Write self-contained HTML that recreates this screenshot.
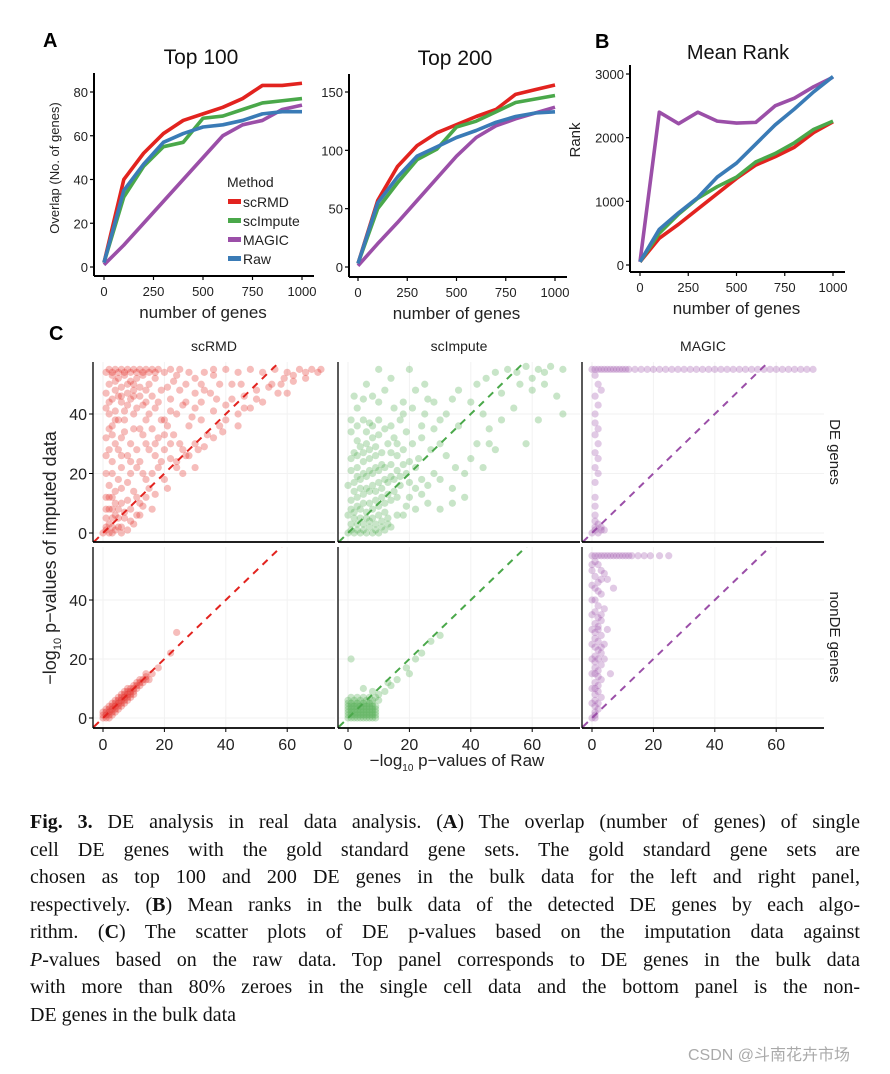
<!DOCTYPE html>
<html><head><meta charset="utf-8">
<style>
body{margin:0;background:#fff;width:890px;height:1074px;overflow:hidden;position:relative;font-family:"Liberation Sans",sans-serif}
svg{position:absolute;left:0;top:0}
.cap{position:absolute;left:30px;width:830px;font-family:"Liberation Serif",serif;font-size:20px;line-height:27px;text-align:justify;text-align-last:justify;white-space:nowrap;color:#111}
.cap.last{text-align-last:left}
</style></head><body>
<svg id="fig" width="890" height="1074" xmlns="http://www.w3.org/2000/svg"></svg>

<div class="cap" style="top:809px"><b>Fig. 3.</b> DE analysis in real data analysis. (<b>A</b>) The overlap (number of genes) of single</div>
<div class="cap" style="top:837px">cell DE genes with the gold standard gene sets. The gold standard gene sets are</div>
<div class="cap" style="top:864px">chosen as top 100 and 200 DE genes in the bulk data for the left and right panel,</div>
<div class="cap" style="top:892px">respectively. (<b>B</b>) Mean ranks in the bulk data of the detected DE genes by each algo-</div>
<div class="cap" style="top:919px">rithm. (<b>C</b>) The scatter plots of DE p-values based on the imputation data against</div>
<div class="cap" style="top:947px"><i>P</i>-values based on the raw data. Top panel corresponds to DE genes in the bulk data</div>
<div class="cap" style="top:974px">with more than 80% zeroes in the single cell data and the bottom panel is the non-</div>
<div class="cap last" style="top:1002px">DE genes in the bulk data</div>
<div style="position:absolute;left:688px;top:1041px;font-size:16px;color:#aaa;font-family:'Liberation Sans','Noto Sans CJK SC',sans-serif">CSDN @斗南花卉市场</div>

<script>
// ---------- data ----------
const genesX = [0,100,200,300,400,500,600,700,800,900,1000];
const methods = ["scRMD","scImpute","MAGIC","Raw"];
const colors = ["#e2231f","#4aa84a","#9b4fa8","#3a7bb6"];
const top100_scRMD   = [2,40,52,61,67,70,73,77,83,83,84];
const top100_scImpute= [2,32,46,55,57,68,69,72,75,76,77];
const top100_MAGIC   = [1,10,20,30,40,50,60,65,67,72,74];
const top100_Raw     = [2,35,47,57,61,64,65,67,70,71,71];
const top200_scRMD   = [3,57,86,104,115,122,129,135,148,152,156];
const top200_scImpute= [3,50,72,92,101,120,125,133,141,144,147];
const top200_MAGIC   = [1,20,38,57,76,95,111,121,127,132,137];
const top200_Raw     = [3,55,77,95,103,111,117,124,129,132,133];
const rank_scRMD     = [50,420,640,880,1120,1360,1570,1700,1850,2080,2250];
const rank_scImpute  = [50,500,800,1050,1230,1380,1620,1750,1920,2130,2260];
const rank_MAGIC     = [50,2400,2220,2400,2260,2230,2240,2500,2620,2800,2950];
const rank_Raw       = [50,560,820,1060,1380,1600,1900,2200,2450,2720,2960];
const xTicksA = [0,250,500,750,1000];
const yTicksTop100 = [0,20,40,60,80];
const yTicksTop200 = [0,50,100,150];
const yTicksRank = [0,1000,2000,3000];
const xTicksC = [0,20,40,60];
const yTicksC = [0,20,40];

// scatter points [x,y,...] pairs
const de_scRMD = [2,55,4,55,6,55,8,55,10,55,12,55,14,55,16,55,18,55,3,53,5,52,7,53,9,51,11,52,13,53,15,50,2,50,4,48,6,49,8,47,10,48,12,46,3,45,6,44,14,48,17,52,20,54,22,55,25,55,28,54,30,52,33,54,36,53,40,55,44,54,48,55,52,54,56,55,60,54,64,55,68,55,71,55,66,52,62,51,58,50,54,49,50,48,46,46,42,45,48,42,52,44,57,47,60,47,44,40,40,43,36,41,32,38,38,36,34,33,30,30,26,28,22,25,18,22,14,18,10,14,6,10,4,6,2,3,1,1,0,0,2,0,4,1,6,2,3,8,1,12,2,16,1,20,3,24,2,28,1,32,3,36,2,40,5,38,7,34,9,30,8,26,6,22,5,18,9,20,12,24,15,28,18,32,21,36,24,40,27,44,30,47,12,35,15,40,18,44,20,38,23,33,25,30,20,28,17,26,14,30,10,40,8,43,25,48,30,42,35,47,38,50,42,50,28,36,32,44,7,5,9,8,12,10,10,3,15,15,20,18,26,20,30,22,16,8,12,6,5,28,7,38,40,38,45,50,3,12,6,15,11,28,19,48,23,51,1,54,3,54,5,54,7,54,9,54,11,54,13,54,15,54,17,54,4,51,8,50,12,49,1,47,5,46,9,45,13,43,16,46,1,42,4,41,7,41,11,42,14,38,3,33,6,32,10,35,13,33,16,35,19,38,22,41,26,43,29,39,17,30,20,33,22,30,11,22,13,20,16,20,19,24,24,24,27,26,4,14,8,17,2,8,5,8,8,11,11,12,14,12,1,5,3,5,5,5,7,7,1,2,3,2,5,2,9,4,11,6,3,0,6,0,8,1,13,9,17,13,21,15,24,22,28,26,31,28,33,29,36,32,39,34,44,36,46,42,50,45,55,50,62,53,66,54,59,52,70,54,37,45,33,48,27,50,22,45,17,42,14,44,10,46,6,46,2,44,4,38,2,35,4,30,1,26,3,20,6,26,9,24,2,12,4,10,1,8,10,50,21,49,24,53,32,50,36,55];
const de_scImpute = [0,0,2,0,4,0,6,0,8,0,10,0,12,1,14,2,1,3,3,3,5,3,7,4,9,3,11,4,13,5,0,6,2,7,4,8,6,7,8,8,10,9,12,10,14,11,16,12,1,11,3,12,5,13,7,14,9,14,11,15,13,17,15,18,17,19,19,20,0,16,2,17,4,18,6,19,8,20,10,21,12,22,14,23,1,21,3,22,5,24,7,25,9,26,11,27,2,27,4,29,6,30,8,32,10,33,1,34,3,36,5,38,7,37,12,35,15,32,18,28,20,24,22,22,24,18,26,16,23,25,21,30,19,34,17,38,15,42,10,44,8,46,12,48,14,52,20,55,18,44,25,40,28,35,30,30,32,26,35,22,38,20,30,18,26,10,20,12,18,6,22,8,28,44,32,40,34,45,36,48,40,44,42,50,45,52,48,54,52,55,55,54,58,56,62,55,66,56,70,55,64,50,60,48,68,46,70,40,54,42,50,38,46,35,42,30,40,25,38,12,34,15,44,22,48,28,58,30,62,38,5,45,3,42,25,50,16,26,13,30,24,32,27,28,1,1,3,1,5,1,7,2,9,1,11,2,13,3,2,5,4,5,6,5,8,5,10,6,12,7,1,8,3,9,5,10,7,10,9,11,11,12,13,13,15,14,17,16,2,14,4,15,6,15,8,16,10,17,12,18,14,19,16,21,18,23,3,19,5,20,7,21,9,22,11,23,1,25,3,26,5,27,7,28,9,29,6,34,8,36,10,38,14,27,16,30,20,17,22,15,24,13,28,20,19,9,16,6,3,31,1,38,2,46,6,50,10,55,22,48,26,45,30,38,36,36,44,40,50,47,56,50,60,52,64,54,46,30,34,10,30,8,14,36,18,40,21,42,24,36];
const de_MAGIC = [0,55,1,55,2,55,3,55,4,55,5,55,6,55,7,55,8,55,9,55,10,55,11,55,12,55,14,55,16,55,18,55,20,55,22,55,24,55,26,55,28,55,30,55,32,55,34,55,36,55,38,55,40,55,42,55,44,55,46,55,48,55,50,55,52,55,54,55,56,55,58,55,60,55,62,55,64,55,66,55,68,55,70,55,72,55,1,53,2,50,3,48,1,46,2,43,1,40,1,37,2,35,1,33,2,30,1,27,2,25,1,22,2,20,1,17,1,12,1,9,1,6,1,4,2,3,1,2,3,1,1,1,0,0,2,0,3,2,4,1];
const non_scRMD = [0,0,1,0,2,1,1,2,3,2,2,3,4,3,3,4,5,4,4,5,6,5,5,6,7,6,6,7,8,7,7,8,9,8,8,9,10,9,9,10,11,10,10,11,12,11,11,12,13,12,12,13,14,13,0,1,1,1,2,2,3,3,4,4,5,5,6,6,7,7,8,8,9,9,10,10,11,11,12,12,13,13,14,14,0,2,2,0,3,1,1,3,4,2,2,4,5,3,3,5,6,4,4,6,7,5,5,7,8,6,6,8,9,7,7,9,10,8,8,10,16,15,18,17,22,22,24,29,14,15,15,13];
const non_scImpute = [0,0,1,0,2,0,3,0,4,0,5,0,6,0,7,0,8,0,9,0,0,1,1,1,2,1,3,1,4,1,5,1,6,1,7,1,8,1,9,1,0,2,1,2,2,2,3,2,4,2,5,2,6,2,7,2,8,2,9,2,0,3,1,3,2,3,3,3,4,3,5,3,6,3,7,3,8,3,9,3,0,4,1,4,2,4,3,4,4,4,5,4,6,4,7,4,8,4,9,4,0,5,1,5,2,5,3,5,4,5,5,5,6,5,7,5,8,5,10,6,0,6,2,6,4,6,6,6,8,6,10,8,1,7,3,7,5,7,7,7,9,7,12,9,14,11,16,13,13,12,19,17,20,15,22,20,24,22,27,26,30,28,1,20,5,10,8,9];
const non_MAGIC = [0,55,1,55,2,55,3,55,4,55,5,55,6,55,7,55,8,55,9,55,10,55,11,55,12,55,13,55,15,55,17,55,19,55,22,55,25,55,1,53,2,52,3,50,1,48,4,49,2,46,1,44,3,42,1,40,2,38,4,37,1,36,2,34,3,33,1,32,2,30,1,29,3,28,1,27,2,26,4,25,1,24,2,23,3,22,1,21,2,20,1,19,3,18,1,17,2,16,1,15,2,14,3,13,1,12,2,11,1,10,2,9,1,8,3,7,1,6,2,5,1,4,2,3,1,2,1,1,0,0,1,0,0,5,0,10,0,15,0,20,0,25,0,30,0,35,0,40,0,45,0,50,0,52,5,47,7,44,5,30,3,35,4,20,6,15,2,43,3,47,2,31,3,24];

// ---------- helpers ----------
const NS = "http://www.w3.org/2000/svg";
const svg = document.getElementById("fig");
function el(tag, attrs, parent){ const e=document.createElementNS(NS,tag); for(const k in attrs) e.setAttribute(k,attrs[k]); (parent||svg).appendChild(e); return e; }
function txt(str, attrs, parent){ const t=el("text",attrs,parent); t.textContent=str; return t; }
function lin(d0,d1,r0,r1){ return v => r0 + (v-d0)/(d1-d0)*(r1-r0); }

// ---------- line panels ----------
function linePanel(name, cfg, series, yTicks){
  const g = el("g",{});
  
  
  const xs = lin(0,1000,cfg.x0,cfg.x1), ys = lin(0,cfg.ymax,cfg.y0,cfg.yTop);
  const axY = el("line",{x1:cfg.ax,y1:cfg.axTop,x2:cfg.ax,y2:cfg.axB,stroke:"#000","stroke-width":2},g);
  
  
  const axX = el("line",{x1:cfg.ax,y1:cfg.axB,x2:cfg.x1+12,y2:cfg.axB,stroke:"#000","stroke-width":2},g);
  
  
  yTicks.forEach(v=>{
    el("line",{x1:cfg.ax-4,x2:cfg.ax,y1:ys(v),y2:ys(v),stroke:"#000","stroke-width":1.2},g);
    const t=txt(String(v),{x:cfg.ax-6,y:ys(v)+5,"text-anchor":"end","font-size":13,fill:"#222"},g);
    
    
  });
  xTicksA.forEach(v=>{
    el("line",{x1:xs(v),x2:xs(v),y1:cfg.axB,y2:cfg.axB+4,stroke:"#000","stroke-width":1.2},g);
    const t=txt(String(v),{x:xs(v),y:cfg.axB+20,"text-anchor":"middle","font-size":13,fill:"#222"},g);
    
    
  });
  series.forEach((vals,i)=>{
    const p = el("polyline",{points:vals.map((v,j)=>xs(genesX[j])+","+ys(v)).join(" "),fill:"none",stroke:colors[i],"stroke-width":3.6,"stroke-linejoin":"round"},g);
    
    
  });
  const xt = txt("number of genes",{x:(cfg.x0+cfg.x1)/2,y:cfg.axB+42,"text-anchor":"middle","font-size":17,fill:"#222"},g);
  
  
  const tt = txt(cfg.title,{x:cfg.tx,y:cfg.ty,"text-anchor":"middle","font-size":cfg.fs,fill:"#111"},g);
  
  
  return g;
}
linePanel("chart-top100",{x0:104,x1:302,y0:267,yTop:92,ymax:80,ax:94,axTop:73,axB:276,title:"Top 100",tx:201,ty:64,fs:21},[top100_scRMD,top100_scImpute,top100_MAGIC,top100_Raw],yTicksTop100);
linePanel("chart-top200",{x0:358,x1:555,y0:267,yTop:92,ymax:150,ax:349,axTop:74,axB:277,title:"Top 200",tx:455,ty:65,fs:21},[top200_scRMD,top200_scImpute,top200_MAGIC,top200_Raw],yTicksTop200);
linePanel("chart-mean-rank",{x0:640,x1:833,y0:265,yTop:74,ymax:3000,ax:630,axTop:65,axB:272,title:"Mean Rank",tx:738,ty:59,fs:20},[rank_scRMD,rank_scImpute,rank_MAGIC,rank_Raw],yTicksRank);

let t;
t=txt("Overlap (No. of genes)",{x:0,y:0,transform:"translate(59,168) rotate(-90)","text-anchor":"middle","font-size":13,fill:"#222"});
 
t=txt("Rank",{x:0,y:0,transform:"translate(580,140) rotate(-90)","text-anchor":"middle","font-size":15,fill:"#222"});
 
t=txt("A",{x:43,y:47,"font-size":20,"font-weight":"bold",fill:"#000"});
 
t=txt("B",{x:595,y:48,"font-size":20,"font-weight":"bold",fill:"#000"});
 
t=txt("C",{x:49,y:340,"font-size":20,"font-weight":"bold",fill:"#000"});
 

// legend
const lg = el("g",{});


txt("Method",{x:227,y:187,"font-size":14,fill:"#222"},lg);
methods.forEach((m,i)=>{
  const y = 202 + i*19;
  const r = el("rect",{x:228,y:y-3,width:13,height:5,fill:colors[i]},lg);
  
  
  const lt = txt(m,{x:243,y:y+5,"font-size":14,fill:"#222"},lg);
  
  
});

// ---------- scatter grid ----------
const colLeft = [93,338,582];
const colTitles = ["scRMD","scImpute","MAGIC"];
const rows = [{top:362,bot:542,y0:533,k:2.975},{top:547,bot:728,y0:718,k:2.95}];
const scatterData = [[de_scRMD,de_scImpute,de_MAGIC],[non_scRMD,non_scImpute,non_MAGIC]];
const condensed = '"Liberation Sans Narrow","Liberation Sans",sans-serif';
colTitles.forEach((c,ci)=>{
  const tt=txt(c,{x:colLeft[ci]+121,y:351,"text-anchor":"middle","font-size":14,fill:"#222","font-family":condensed});
  
  
});
rows.forEach((r,ri)=>{
  colLeft.forEach((L,ci)=>{
    const g = el("g",{});
    
    
    const xs = v => L+10+v*3.07, ys = v => r.y0 - v*r.k;
    const R = L+242;
    const cid = "clip"+ri+ci;
    const cp = el("clipPath",{id:cid},g); el("rect",{x:L,y:r.top,width:R-L,height:r.bot-r.top},cp);
    xTicksC.forEach(v=>el("line",{x1:xs(v),x2:xs(v),y1:r.top,y2:r.bot,stroke:"#f2f2f2","stroke-width":1},g));
    yTicksC.forEach(v=>el("line",{x1:L,x2:R,y1:ys(v),y2:ys(v),stroke:"#f2f2f2","stroke-width":1},g));
    const pts = scatterData[ri][ci];
    const pg = el("g",{"clip-path":"url(#"+cid+")"},g);
    for(let i=0;i<pts.length;i+=2){
      const c = el("circle",{cx:xs(pts[i]),cy:ys(pts[i+1]),r:3.6,fill:colors[ci],"fill-opacity":0.3},pg);
      
      
    }
    const dl = el("line",{x1:xs(-3),y1:ys(-3),x2:xs(80),y2:ys(80),stroke:colors[ci],"stroke-width":2,"stroke-dasharray":"7,6","clip-path":"url(#"+cid+")"},g);
    
    
    el("line",{x1:L,x2:L,y1:r.top,y2:r.bot,stroke:"#000","stroke-width":1.3},g);
    el("line",{x1:L,x2:R,y1:r.bot,y2:r.bot,stroke:"#000","stroke-width":1.8},g);
    if(ci===0){
      yTicksC.forEach(v=>{
        el("line",{x1:L-4,x2:L,y1:ys(v),y2:ys(v),stroke:"#000"},g);
        const yt=txt(String(v),{x:L-6,y:ys(v)+6,"text-anchor":"end","font-size":16,fill:"#222","font-family":condensed},g);
        
        
      });
    }
    if(ri===1){
      xTicksC.forEach(v=>{
        el("line",{x1:xs(v),x2:xs(v),y1:r.bot,y2:r.bot+4,stroke:"#000"},g);
        const xt=txt(String(v),{x:xs(v),y:r.bot+22,"text-anchor":"middle","font-size":16,fill:"#222","font-family":condensed},g);
        
        
      });
    }
  });
});
t=txt("DE genes",{x:0,y:0,transform:"translate(830,452) rotate(90)","text-anchor":"middle","font-size":15,fill:"#222"});
 
t=txt("nonDE genes",{x:0,y:0,transform:"translate(830,637) rotate(90)","text-anchor":"middle","font-size":15,fill:"#222"});
 
t=el("text",{x:0,y:0,transform:"translate(56,558) rotate(-90)","text-anchor":"middle","font-size":18,fill:"#222"});
t.innerHTML='−log<tspan font-size="11" dy="5">10</tspan><tspan dy="-5"> p−values of imputed data</tspan>';
 
t=el("text",{x:457,y:766,"text-anchor":"middle","font-size":17,fill:"#222","font-family":condensed});
t.innerHTML='−log<tspan font-size="10" dy="5">10</tspan><tspan dy="-5"> p−values of Raw</tspan>';
 
</script>
</body></html>
